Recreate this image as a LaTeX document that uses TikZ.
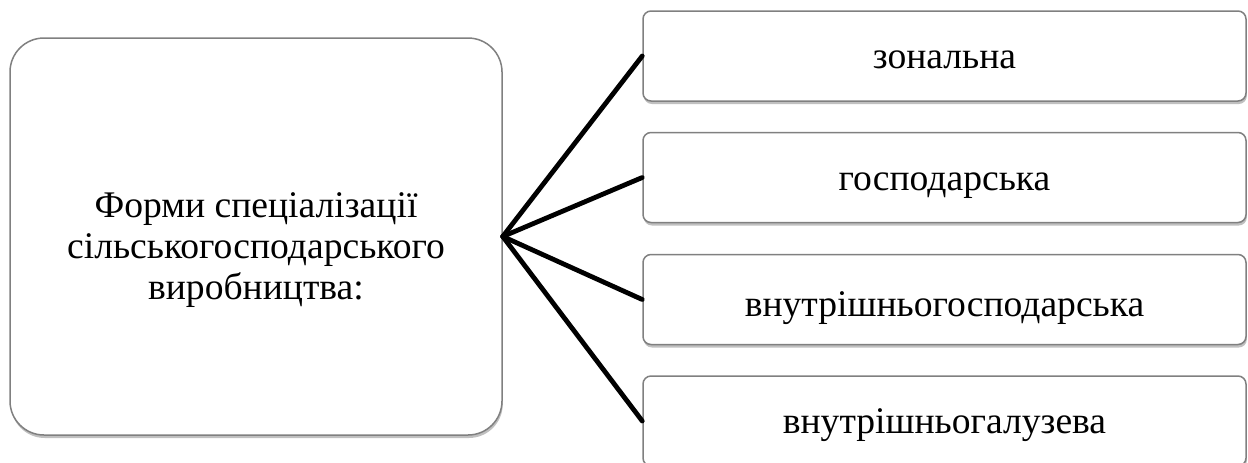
\documentclass[tikz,border=0pt]{standalone}
\usepackage{fontspec}
\setmainfont{Liberation Serif}
\usetikzlibrary{shadows}
\begin{document}
\begin{tikzpicture}[x=0.5pt,y=-0.5pt,
  box/.style={draw=black!50, line width=0.75pt, fill=white, rounded corners=4pt,
    drop shadow={shadow xshift=0.4pt, shadow yshift=-1.5pt, opacity=0.35, fill=black!70},
    font=\fontsize{18.8}{20.5}\selectfont, inner sep=0pt},
  itembox/.style={box, minimum width=301.5pt, minimum height=45pt, text height=16pt, text depth=3.4pt},
  link/.style={line width=2.4pt, line cap=round}]
\clip (0,0) rectangle (1248,462);
\fill[white] (0,0) rectangle (1248,462);
\node[box, rounded corners=17pt, minimum width=246pt, minimum height=198.5pt] (main) at (256,236.5)
  {\raisebox{-7pt}[\height][\depth]{\begin{tabular}{@{}c@{}}Форми спеціалізації\\сільськогосподарського\\виробництва:\end{tabular}}};
\node[itembox] (r1) at (944.5,56) {зональна};
\node[itembox] (r2) at (944.5,177.5) {господарська};
\node[itembox, text height=19pt, text depth=2.4pt] (r3) at (944.5,299.5) {внутрішньогосподарська};
\node[itembox] (r4) at (944.5,421) {внутрішньогалузева};
\foreach \r in {r1,r2,r3,r4}{\draw[link] (main.east) -- (\r.west);}
\end{tikzpicture}
\end{document}
